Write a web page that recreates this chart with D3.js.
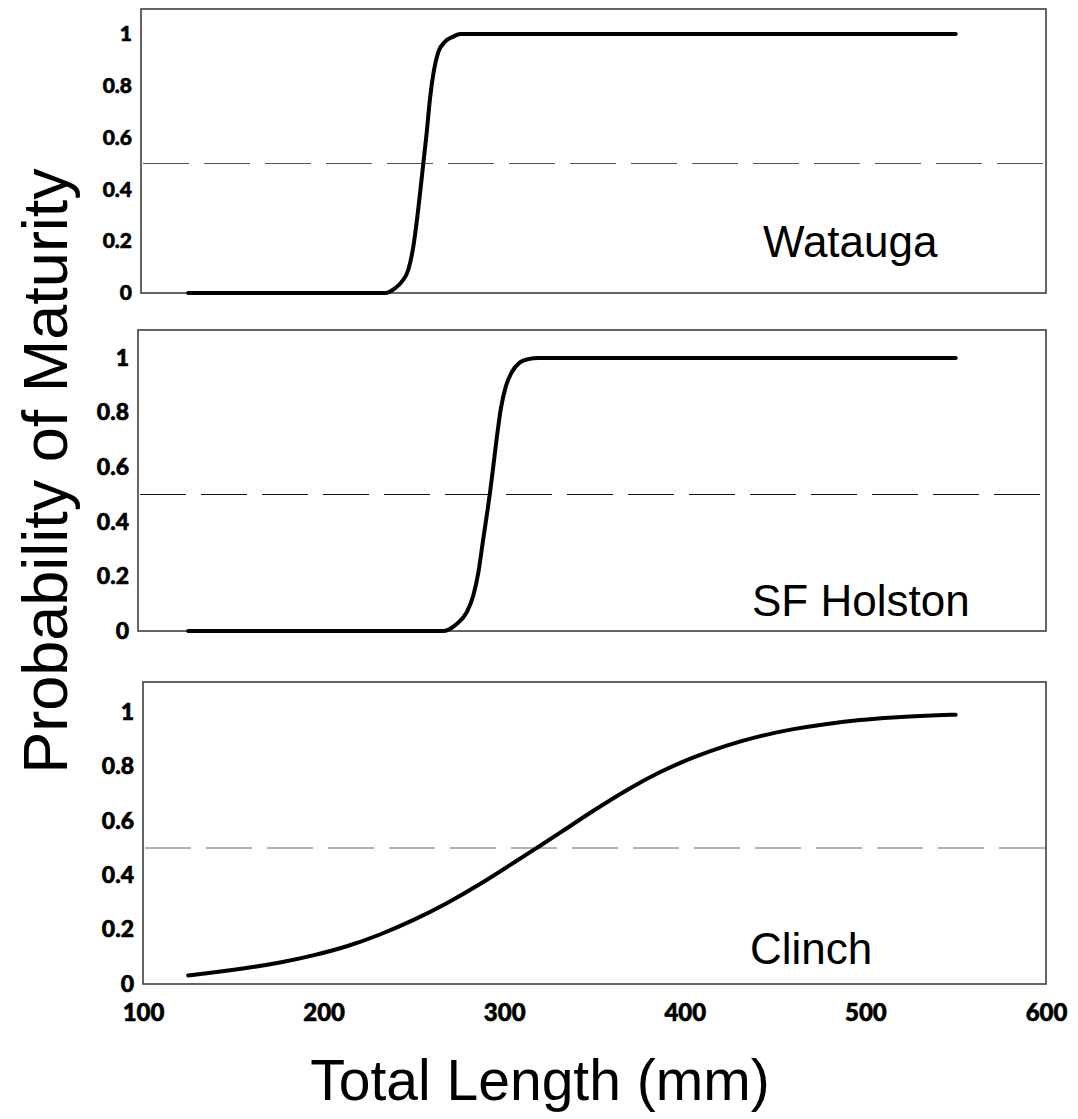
<!DOCTYPE html>
<html>
<head>
<meta charset="utf-8">
<script src="https://cdn.jsdelivr.net/npm/d3@7"></script>
<style>
    body { margin: 0; background: #fff; }
    .tick text { font-family: Lato, "Open Sans", sans-serif; font-weight: 900; fill: #000; stroke: #000; stroke-width: 0.6px; }
    .title { font-family: "Liberation Sans", Arial, sans-serif; fill: #000; }
</style>
</head>
<body>
<div id="chart"></div>
<script>

// river names, one panel each
let rivers = ["Watauga", "SF Holston", "Clinch"];

// total length (mm) and probability of maturity
let watLen = [125, 234, 239.5, 243, 247, 249.7, 252, 253.8, 255.2, 257.1, 258.9, 261.1, 263.5, 267.2, 271.8, 275.5, 550];
let watP   = [0, 0, 0.018, 0.041, 0.092, 0.18, 0.30, 0.41, 0.50, 0.62, 0.75, 0.86, 0.93, 0.97, 0.99, 1, 1];

let sfhLen = [125, 266, 273.7, 279.2, 282.9, 285.7, 288.4, 290.6, 292.1, 294, 295.8, 298.1, 301, 304.1, 308.7, 313.3, 319, 550];
let sfhP   = [0, 0, 0.026, 0.068, 0.13, 0.215, 0.337, 0.435, 0.505, 0.605, 0.703, 0.813, 0.898, 0.947, 0.984, 0.996, 1, 1];

let clLen = [125, 139, 157, 176, 194, 213, 231, 250, 268, 287, 305, 318, 331, 349, 368, 386, 405, 423, 442, 460, 479, 497, 515, 534, 550];
let clP   = [0.031, 0.042, 0.058, 0.078, 0.104, 0.137, 0.18, 0.235, 0.295, 0.368, 0.445, 0.50, 0.556, 0.636, 0.715, 0.78, 0.835, 0.878, 0.913, 0.938, 0.957, 0.971, 0.98, 0.987, 0.99];

let lengths = [watLen, sfhLen, clLen];
let probs = [watP, sfhP, clP];

// axis ticks
let yTicks = [0, 0.2, 0.4, 0.6, 0.8, 1];
let xTicks = [100, 200, 300, 400, 500, 600];
let cutoff = 0.5;

// panel boxes (pixels)
let panels = [
    {left: 141, top: 9,   bottom: 293, one: 34,  font: 21, dash: "#555", lx: 763, ly: 257, curve: d3.curveMonotoneX},
    {left: 138, top: 330, bottom: 631, one: 358, font: 23, dash: "#111", lx: 752, ly: 616, curve: d3.curveMonotoneX},
    {left: 143, top: 682, bottom: 984, one: 712, font: 23, dash: "#666", lx: 750, ly: 964, curve: d3.curveBasis}
];
let right = 1046;

let svg = d3.select("#chart").append("svg")
    .attr("width", 1078)
    .attr("height", 1119);

let x = d3.scaleLinear()
    .domain([100, 600])
    .range([143, right]);

panels.forEach((p, i) => {

    let y = d3.scaleLinear()
        .domain([0, 1])
        .range([p.bottom, p.one]);

    let g = svg.append("g").attr("class", "panel");

    // frame
    g.append("rect")
        .attr("x", p.left)
        .attr("y", p.top)
        .attr("width", right - p.left)
        .attr("height", p.bottom - p.top)
        .attr("fill", "none")
        .attr("stroke", "#333")
        .attr("stroke-width", 1.5);

    // 50% line
    g.append("line")
        .attr("x1", p.left + 2)
        .attr("x2", right)
        .attr("y1", y(cutoff))
        .attr("y2", y(cutoff))
        .attr("stroke", p.dash)
        .attr("stroke-width", 1)
        .attr("stroke-dasharray", "46,15");

    // y axis labels only
    let yAxis = d3.axisLeft(y)
        .tickValues(yTicks)
        .tickSize(0)
        .tickPadding(9)
        .tickFormat(d => (d === 0 || d === 1) ? String(d) : d3.format(".1f")(d));

    let ya = g.append("g")
        .attr("transform", `translate(${p.left}, 0)`)
        .call(yAxis);
    ya.select(".domain").remove();
    ya.selectAll("text").style("font-size", p.font + "px");

    // curve
    let pts = lengths[i].map((d, j) => [d, probs[i][j]]);
    let line = d3.line()
        .x(d => x(d[0]))
        .y(d => y(d[1]))
        .curve(p.curve);

    g.append("path")
        .datum(pts)
        .attr("d", line)
        .attr("fill", "none")
        .attr("stroke", "#000")
        .attr("stroke-width", 4)
        .attr("stroke-linecap", "round");

    // river name
    g.append("text")
        .attr("class", "title")
        .attr("x", p.lx)
        .attr("y", p.ly)
        .style("font-size", "44px")
        .text(rivers[i]);
});

// x axis under the last panel
let last = panels[panels.length - 1];
let xAxis = d3.axisBottom(x)
    .tickValues(xTicks)
    .tickSize(0)
    .tickPadding(20)
    .tickFormat(d3.format("d"));

let xa = svg.append("g")
    .attr("transform", `translate(0, ${last.bottom})`)
    .call(xAxis);
xa.select(".domain").remove();
xa.selectAll("text").style("font-size", "24px");

// axis titles
svg.append("text")
    .attr("class", "title")
    .attr("x", 540)
    .attr("y", 1100)
    .attr("text-anchor", "middle")
    .style("font-size", "57px")
    .text("Total Length (mm)");

svg.append("text")
    .attr("class", "title")
    .attr("transform", "translate(67, 471) rotate(-90)")
    .attr("text-anchor", "middle")
    .style("font-size", "63px")
    .text("Probability of Maturity");

</script>
</body>
</html>
